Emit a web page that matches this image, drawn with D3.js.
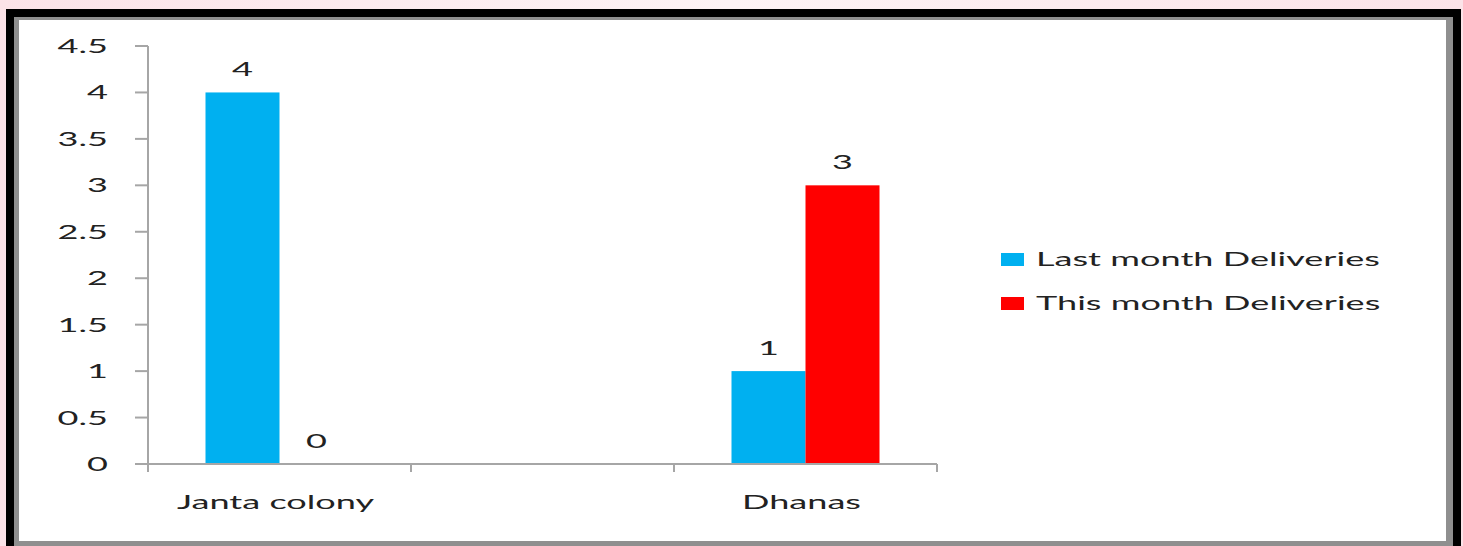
<!DOCTYPE html>
<html><head><meta charset="utf-8">
<script src="https://cdn.jsdelivr.net/npm/d3@7/dist/d3.min.js"></script>
<style>
html,body{margin:0;padding:0;background:#fbe7eb;}
svg{display:block;}
text{font-family:Lato,"Open Sans",sans-serif;fill:#222;}
</style></head>
<body>
<svg id="c" width="1463" height="546"></svg>
<script>
const categories = ["Janta colony", "", "Dhanas"];
const seriesNames = ["Last month Deliveries", "This month Deliveries"];
const lastMonth = [4, null, 1];
const thisMonth = [0, null, 3];
const yTicks = [0, 0.5, 1, 1.5, 2, 2.5, 3, 3.5, 4, 4.5];
const colors = ["#00b0f0", "#ff0000"];

const svg = d3.select("#c");
const W = 1463, H = 546;

// background gradient + frame
const defs = svg.append("defs");
const g1 = defs.append("linearGradient").attr("id","bg").attr("x1","0").attr("x2","1");
g1.append("stop").attr("offset","0").attr("stop-color","#fbe3e8");
g1.append("stop").attr("offset","0.5").attr("stop-color","#fdf3f5");
g1.append("stop").attr("offset","1").attr("stop-color","#fbe3e8");
svg.append("rect").attr("width",W).attr("height",H).attr("fill","url(#bg)");
svg.append("rect").attr("x",6).attr("y",9).attr("width",1455).attr("height",560).attr("fill","#000");
svg.append("rect").attr("x",14).attr("y",17).attr("width",1439).attr("height",560).attr("fill","#8f8f8f");
svg.append("rect").attr("x",19).attr("y",20).attr("width",1427).attr("height",521).attr("fill","#fff");

const FS = 19.5;
// measure stretch factor for the horizontally stretched text
const probe = svg.append("text").style("font-size",FS+"px").text(seriesNames[0]);
const SX = 344 / probe.node().getComputedTextLength();
probe.remove();

function label(x, y, str, anchor){
  return svg.append("text")
    .attr("transform", `translate(${x},${y}) scale(${SX},1)`)
    .attr("text-anchor", anchor)
    .style("font-size", FS+"px")
    .text(str);
}

const y = d3.scaleLinear().domain([0, 4.5]).range([464, 46]);
const x0 = d3.scaleBand().domain(categories.map((d,i)=>i)).range([148, 937]).paddingInner(0).paddingOuter(0);
const x1 = d3.scaleBand().domain([0,1]).range([0, x0.bandwidth()]).paddingInner(0).paddingOuter(0.777);

const axisColor = "#a6a6a6";
// y axis
svg.append("line").attr("x1",148).attr("x2",148).attr("y1",y(4.5)).attr("y2",472)
  .attr("stroke",axisColor).attr("stroke-width",2);
yTicks.forEach(t=>{
  svg.append("line").attr("x1",135).attr("x2",148).attr("y1",y(t)).attr("y2",y(t))
    .attr("stroke",axisColor).attr("stroke-width",2);
  label(108, y(t)+7, String(t), "end");
});

// bars
const seriesVals = [lastMonth, thisMonth];
categories.forEach((c,i)=>{
  seriesVals.forEach((vals,s)=>{
    const v = vals[i];
    if (v === null) return;
    const bx = x0(i) + x1(s);
    if (v > 0) {
      svg.append("rect").attr("x",bx).attr("y",y(v)).attr("width",x1.bandwidth())
        .attr("height",y(0)-y(v)).attr("fill",colors[s]);
    }
    label(bx + x1.bandwidth()/2, y(v)-16, String(v), "middle");
  });
});

// x axis
svg.append("line").attr("x1",148).attr("x2",937).attr("y1",y(0)).attr("y2",y(0))
  .attr("stroke",axisColor).attr("stroke-width",2);
const bounds = categories.map((d,i)=>x0(i)).concat([x0(categories.length-1)+x0.bandwidth()]);
bounds.forEach(b=>{
  svg.append("line").attr("x1",b).attr("x2",b).attr("y1",y(0)).attr("y2",472)
    .attr("stroke",axisColor).attr("stroke-width",2);
});
categories.forEach((c,i)=>{
  if (c) label(x0(i)+x0.bandwidth()/2 - 4, 509, c, "middle");
});

// legend
seriesNames.forEach((n,s)=>{
  const ly = 266 + s*44;
  svg.append("rect").attr("x",1001).attr("y",ly-13).attr("width",23).attr("height",13).attr("fill",colors[s]);
  label(1036, ly, n, "start");
});
</script>
</body></html>
